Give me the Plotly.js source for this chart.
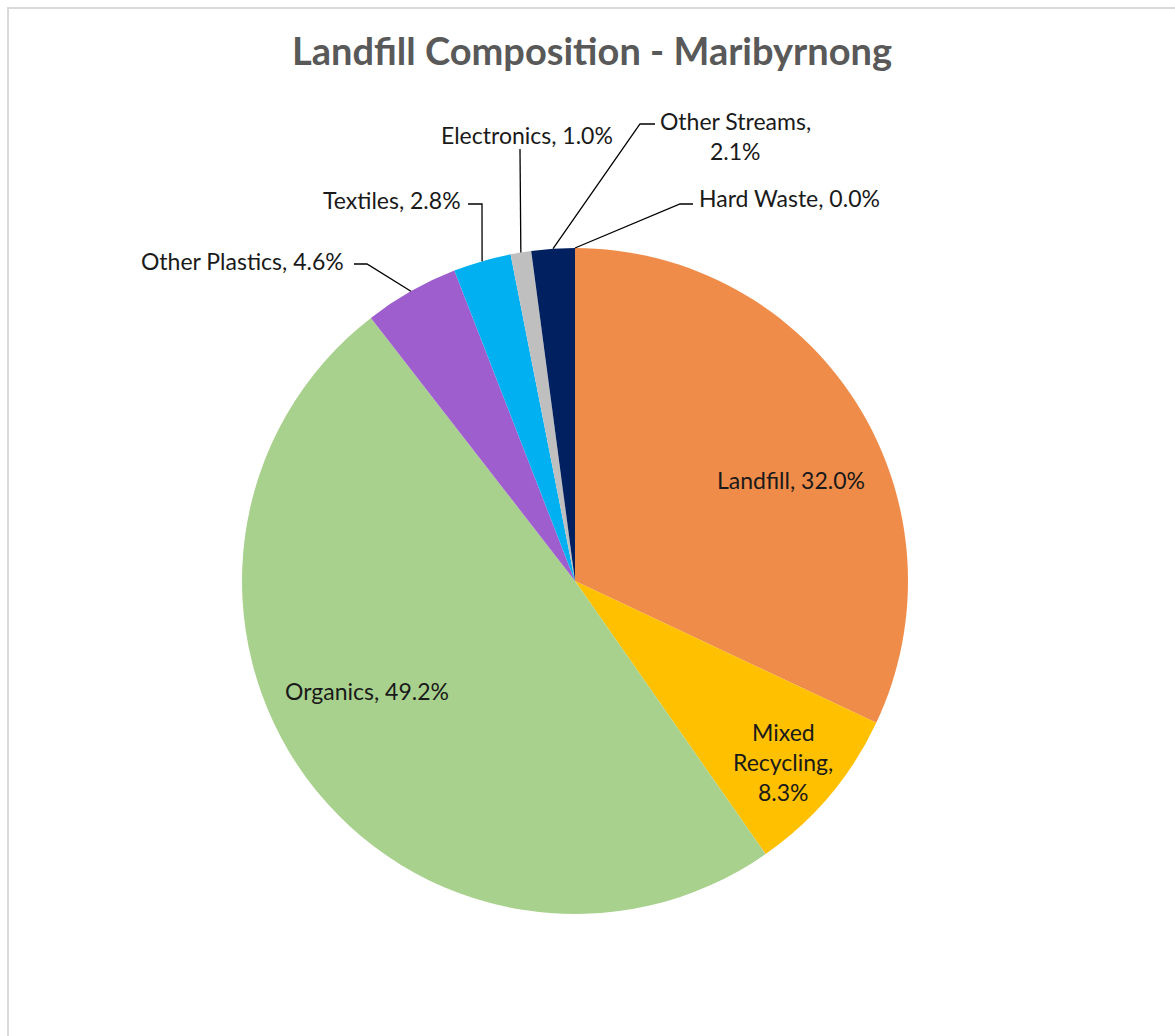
<!DOCTYPE html>
<html>
<head>
<meta charset="utf-8">
<script src="https://cdn.plot.ly/plotly-3.0.1.min.js"></script>
<style>
  html, body { margin: 0; padding: 0; background: #fff; }
  #wrap { position: relative; width: 1175px; height: 1036px; overflow: hidden; }
  #frame { position: absolute; left: 7px; top: 7px; width: 1200px; height: 1100px;
           border-left: 2px solid #d9d9d9; border-top: 2px solid #d9d9d9; pointer-events: none; }
  #chart { position: absolute; left: 0; top: 0; width: 1175px; height: 1036px; }
</style>
</head>
<body>
<div id="wrap">
  <div id="chart"></div>
  <div id="frame"></div>
</div>
<script>
// ---- data ----
const categories = ['Landfill', 'Mixed Recycling', 'Organics', 'Other Plastics', 'Textiles', 'Electronics', 'Other Streams', 'Hard Waste'];
const shares = [32.0, 8.3, 49.2, 4.6, 2.8, 1.0, 2.1, 0.0];
const sliceColors = ['#EF8C4A', '#FFC000', '#A9D18E', '#9E5ECE', '#00B0F0', '#BFBFBF', '#002060', '#A5A5A5'];
const chartTitle = 'Landfill Composition - Maribyrnong';

// ---- layout / style (pixels) ----
const W = 1175, H = 1036;
const CX = 575, CY = 581, R = 333;
const FONT = 'Lato, "Open Sans", sans-serif';
const LABEL_SIZE = 23;
const LINE_GAP = 30;

// label placement per category: text lines (derived from data), anchor point, alignment, leader path
function pctText(i) { return shares[i].toFixed(1) + '%'; }
const labelSpec = [
  { lines: i => [categories[i] + ', ' + pctText(i)], x: 791, y: 480, align: 'center' },
  { lines: i => ['Mixed', 'Recycling,', pctText(i)], x: 783, y: 762, align: 'center' },
  { lines: i => [categories[i] + ', ' + pctText(i)], x: 367, y: 691, align: 'center' },
  { lines: i => [categories[i] + ', ' + pctText(i)], x: 346, y: 261, align: 'right', leader: [[354, 264], [367, 264]] },
  { lines: i => [categories[i] + ', ' + pctText(i)], x: 463, y: 200, align: 'right', leader: [[468, 204], [482, 204]] },
  { lines: i => [categories[i] + ', ' + pctText(i)], x: 527, y: 135, align: 'center', leader: [[520, 149]] },
  { lines: i => ['Other Streams,', pctText(i)], x: 735, y: 136, align: 'center', leader: [[655, 124], [640, 124]] },
  { lines: i => [categories[i] + ', ' + pctText(i)], x: 697, y: 198, align: 'left', leader: [[693, 204], [680, 204]] }
];

const px = x => x / W;
const py = y => 1 - y / H;

// slice mid-angle anchors on the pie edge, computed from the data
const total = shares.reduce((a, b) => a + b, 0);
let cum = 0;
const anchors = shares.map(v => {
  const mid = (cum + v / 2) / total;
  cum += v;
  const a = mid * 2 * Math.PI;
  return [CX + R * Math.sin(a), CY - R * Math.cos(a)];
});

const annotations = [{
  text: '<b>' + chartTitle + '</b>', x: px(592), y: py(50), xref: 'paper', yref: 'paper',
  xanchor: 'center', yanchor: 'middle', showarrow: false,
  font: { family: FONT, size: 38, color: '#595959' }
}];
const shapes = [];

labelSpec.forEach((spec, i) => {
  const lines = spec.lines(i);
  const n = lines.length;
  lines.forEach((t, k) => {
    const yy = spec.y + (k - (n - 1) / 2) * LINE_GAP;
    annotations.push({
      text: t, x: px(spec.x), y: py(yy), xref: 'paper', yref: 'paper',
      xanchor: spec.align, yanchor: 'middle', showarrow: false,
      font: { family: FONT, size: LABEL_SIZE, color: '#1a1a1a' }
    });
  });
  if (spec.leader) {
    const pts = spec.leader.concat([anchors[i]]);
    const path = pts.map((p, k) => (k ? 'L' : 'M') + px(p[0]).toFixed(5) + ',' + py(p[1]).toFixed(5)).join(' ');
    shapes.push({ type: 'path', xref: 'paper', yref: 'paper', path: path,
                  line: { color: '#000', width: 1.3 } });
  }
});

const trace = {
  type: 'pie',
  labels: categories,
  values: shares,
  sort: false,
  direction: 'clockwise',
  rotation: 0,
  textinfo: 'none',
  hoverinfo: 'label+percent',
  marker: { colors: sliceColors, line: { width: 0 } },
  domain: { x: [px(CX - R), px(CX + R)], y: [py(CY + R), py(CY - R)] },
  showlegend: false
};

Plotly.newPlot('chart', [trace], {
  width: W, height: H,
  margin: { l: 0, r: 0, t: 0, b: 0 },
  paper_bgcolor: '#fff',
  showlegend: false,
  annotations: annotations,
  shapes: shapes
}, { displayModeBar: false, staticPlot: true });
</script>
</body>
</html>
